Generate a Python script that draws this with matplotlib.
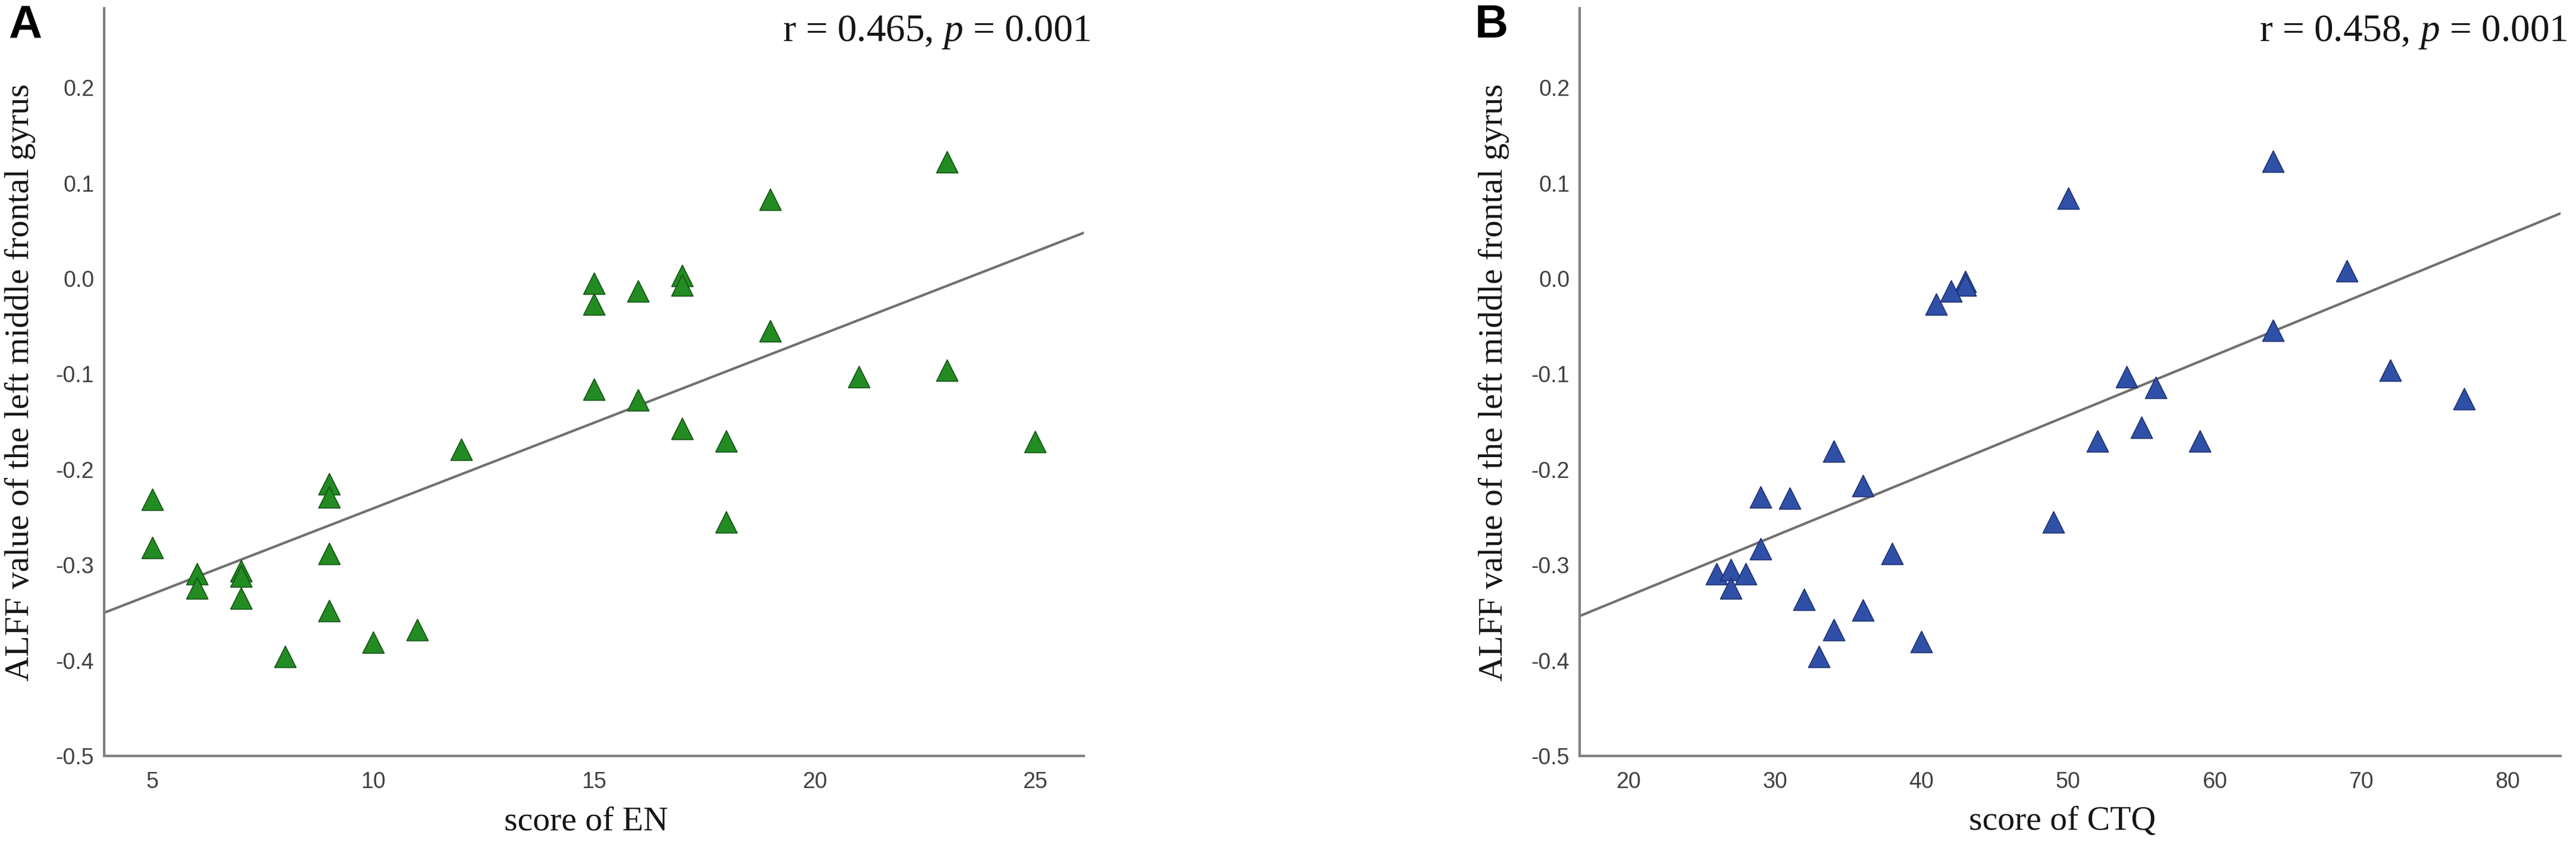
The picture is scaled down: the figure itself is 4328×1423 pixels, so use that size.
import numpy as np
import matplotlib
matplotlib.use("Agg")
import matplotlib.pyplot as plt

# ---- data ----
# panel A: score of EN vs ALFF
en_score = [5, 5, 6, 6, 7, 7, 7, 8, 9, 9, 9, 9, 10, 11, 12,
            15, 15, 15, 16, 16, 17, 17, 17, 18, 18, 19, 19, 21, 23, 23, 25]
en_alff = [-0.231, -0.282, -0.309, -0.324, -0.306, -0.312, -0.335, -0.396,
           -0.215, -0.229, -0.288, -0.348, -0.381, -0.368, -0.179,
           -0.005, -0.027, -0.116, -0.013, -0.127, 0.003, -0.007, -0.157,
           -0.170, -0.255, 0.083, -0.055, -0.103, 0.122, -0.096, -0.171]

# panel B: score of CTQ vs ALFF
ctq_score = [34, 36, 29, 31, 29, 38, 26, 27, 28, 27, 32, 36, 34, 33, 40,
             64, 50, 69, 43, 43, 42, 41, 64, 72, 54, 56, 77, 55, 52, 59, 49]
ctq_alff = [-0.181, -0.217, -0.229, -0.230, -0.283, -0.288, -0.309, -0.305,
            -0.309, -0.324, -0.336, -0.347, -0.368, -0.396, -0.380,
            0.123, 0.084, 0.008, -0.003, -0.007, -0.013, -0.027, -0.054,
            -0.096, -0.103, -0.114, -0.126, -0.156, -0.170, -0.170, -0.255]

yticks = [-0.5, -0.4, -0.3, -0.2, -0.1, 0.0, 0.1, 0.2]
en_ticks = [5, 10, 15, 20, 25]
ctq_ticks = [20, 30, 40, 50, 60, 70, 80]

panels = [
    dict(x=en_score, y=en_alff, xlim=(3.9, 26.1), xticks=en_ticks,
         color="#228b22", edge="#145214", xlabel="score of EN",
         stat="r = 0.465, $\\it{p}$ = 0.001", tag="A",
         pos=[0.0404, 0.1075, 0.3803, 0.8826], tagx=0.0097, ylab_x=-0.0857),
    dict(x=ctq_score, y=ctq_alff, xlim=(16.67, 83.6), xticks=ctq_ticks,
         color="#3050a8", edge="#1c3070", xlabel="score of CTQ",
         stat="r = 0.458, $\\it{p}$ = 0.001", tag="B",
         pos=[0.6132, 0.1075, 0.3808, 0.8826], tagx=0.5790, ylab_x=-0.0874),
]

plt.rcParams['mathtext.fontset'] = 'custom'
plt.rcParams['mathtext.it'] = 'Liberation Serif:italic'
plt.rcParams['mathtext.rm'] = 'Liberation Serif'

fig = plt.figure(figsize=(43.28, 14.23), dpi=100)

tick_font = ['Liberation Sans Narrow', 'Liberation Sans']
serif = ['Liberation Serif', 'DejaVu Serif']

for p in panels:
    ax = fig.add_axes(p['pos'])
    x = np.array(p['x'], dtype=float)
    y = np.array(p['y'], dtype=float)

    ax.scatter(x, y, marker='^', s=26**2, color=p['color'],
               edgecolors=p['edge'], linewidths=1.2, zorder=3)

    # least squares fit line across the whole x range
    slope, icpt = np.polyfit(x, y, 1)
    xs = np.array(p['xlim'])
    ax.plot(xs, icpt + slope * xs, color="#707070", linewidth=3, zorder=2)

    ax.set_xlim(p['xlim'])
    ax.set_ylim(-0.5, 0.283)
    ax.set_xticks(p['xticks'])
    ax.set_yticks(yticks)
    ax.set_yticklabels(["%.1f" % v for v in yticks])

    for side in ['top', 'right']:
        ax.spines[side].set_visible(False)
    for side in ['left', 'bottom']:
        ax.spines[side].set_color("#808080")
        ax.spines[side].set_linewidth(3)

    ax.tick_params(axis='both', length=0, labelcolor="#404040", labelsize=27)
    ax.tick_params(axis='x', pad=19)
    ax.tick_params(axis='y', pad=12)
    for lab in ax.get_xticklabels() + ax.get_yticklabels():
        lab.set_family(tick_font)

    ax.set_xlabel(p['xlabel'], fontsize=41.5, family=serif, color="#151515",
                  va='center')
    ax.xaxis.set_label_coords(0.492, -0.0876)
    ax.set_ylabel("ALFF value of the left middle frontal gyrus", fontsize=41.5,
                  family=serif, color="#151515", va='center')
    ax.yaxis.set_label_coords(p['ylab_x'], 0.5)

    ax.text(1.007, 0.968, p['stat'], transform=ax.transAxes, ha='right',
            va='center', fontsize=47, family=serif, color="#151515")

    fig.text(p['tagx'], 0.970, p['tag'], fontsize=56, fontweight='bold',
             family=['Liberation Sans', 'DejaVu Sans'], ha='center',
             va='center', color="black")

plt.savefig("out.png", dpi=100)
plt.close("all")
